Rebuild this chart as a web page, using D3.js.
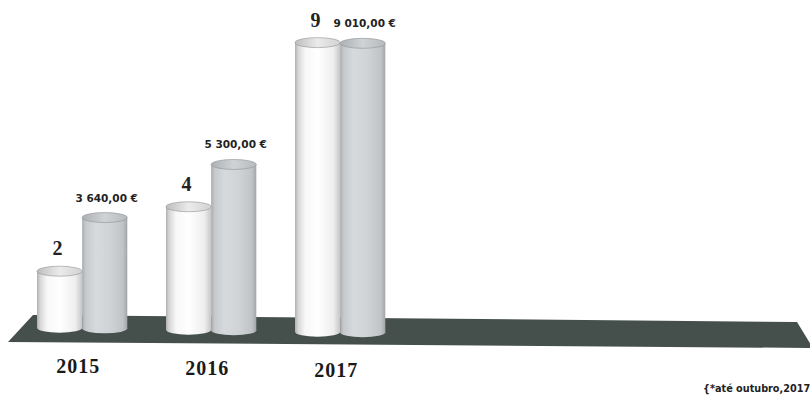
<!DOCTYPE html>
<html><head><meta charset="utf-8">
<script src="https://cdn.jsdelivr.net/npm/d3@7"></script>
<style>html,body{margin:0;padding:0;background:#fff;}svg{display:block;}</style>
</head><body>
<svg id="chart" width="810" height="396"></svg>
<script>
const years = ["2015", "2016", "2017"];
const counts = [2, 4, 9];
const amounts = [3640, 5300, 9010];
const countLabels = ["2", "4", "9"];
const amountLabels = ["3 640,00 €", "5 300,00 €", "9 010,00 €"];
const footnote = "{*até outubro,2017";

const svg = d3.select("#chart");
const defs = svg.append("defs");

function grad(id, stops) {
  const g = defs.append("linearGradient").attr("id", id)
    .attr("x1", "0%").attr("x2", "100%").attr("y1", "0%").attr("y2", "0%");
  stops.forEach(([o, c]) => g.append("stop").attr("offset", o).attr("stop-color", c));
}
grad("gWhite", [[0, "#b0b0b0"], [0.07, "#d6d6d6"], [0.22, "#f7f7f7"], [0.5, "#ffffff"], [0.85, "#eeeeee"], [1, "#c6c6c6"]]);
grad("gGrey", [[0, "#a8acaf"], [0.08, "#c6cacd"], [0.3, "#d6dadc"], [0.6, "#d0d4d6"], [0.9, "#c0c4c7"], [1, "#a2a6a9"]]);
grad("gWhiteTop", [[0, "#bdbdbd"], [0.5, "#ebebeb"], [1, "#d2d2d2"]]);
grad("gGreyTop", [[0, "#adb1b4"], [0.5, "#cfd3d6"], [1, "#b6babd"]]);

// floor (decoration)
svg.append("path")
  .attr("d", "M33,315 L797,322 L813,348 L8,342 Z")
  .attr("fill", "#45504d");

// scales
const x = d3.scaleBand().domain(years).range([37, 385.3]).paddingInner(0.3).paddingOuter(0);
const xs = d3.scaleBand().domain(["count", "eur"]).range([0, x.bandwidth()]);
const yCount = d3.scaleLinear().domain([0, 9]).range([0, 299]);
const yEur = d3.scaleLinear().domain([0, 9010]).range([0, 299]);
const base = cx => 333 + (cx - 82) * 0.0154;
const ry = 5;

function cylinder(x0, w, h, body, top) {
  const cx = x0 + w / 2;
  const bottom = base(cx);
  const yb = bottom - ry, yt = bottom - h + ry;
  const g = svg.append("g");
  g.append("ellipse").attr("cx", cx).attr("cy", yb).attr("rx", w / 2).attr("ry", ry).attr("fill", `url(#${body})`);
  g.append("rect").attr("x", x0).attr("y", yt).attr("width", w).attr("height", yb - yt).attr("fill", `url(#${body})`);
  g.append("ellipse").attr("cx", cx).attr("cy", yt).attr("rx", w / 2).attr("ry", ry)
    .attr("fill", `url(#${top})`).attr("stroke", "#8e9295").attr("stroke-width", 0.6);
  return { cx, topY: bottom - h, bottom };
}

years.forEach((yr, i) => {
  const gx = x(yr);
  const c1 = cylinder(gx + xs("count"), xs.bandwidth(), yCount(counts[i]), "gWhite", "gWhiteTop");
  const c2 = cylinder(gx + xs("eur"), xs.bandwidth(), yEur(amounts[i]), "gGrey", "gGreyTop");

  svg.append("text").attr("x", c1.cx - 2).attr("y", c1.topY - 11)
    .attr("text-anchor", "middle")
    .style("font-family", "'Liberation Serif', serif").style("font-weight", "bold")
    .style("font-size", "20px").attr("fill", "#222").text(countLabels[i]);

  svg.append("text").attr("x", c2.cx + 2).attr("y", c2.topY - 11)
    .attr("text-anchor", "middle")
    .style("font-family", "'DejaVu Sans', sans-serif").style("font-weight", "bold")
    .style("font-size", "10.5px").attr("fill", "#222").text(amountLabels[i]);

  const gc = gx + x.bandwidth() / 2;
  svg.append("text").attr("x", gc - 4).attr("y", base(gc) + 40)
    .attr("text-anchor", "middle")
    .style("font-family", "'Liberation Serif', serif").style("font-weight", "bold")
    .style("font-size", "20px").style("letter-spacing", "1px").attr("fill", "#1a1a1a").text(yr);
});

svg.append("text").attr("x", 703).attr("y", 392)
  .style("font-family", "'DejaVu Sans', sans-serif").style("font-weight", "bold")
  .style("font-size", "9.7px").attr("fill", "#222").text(footnote);
</script>
</body></html>
